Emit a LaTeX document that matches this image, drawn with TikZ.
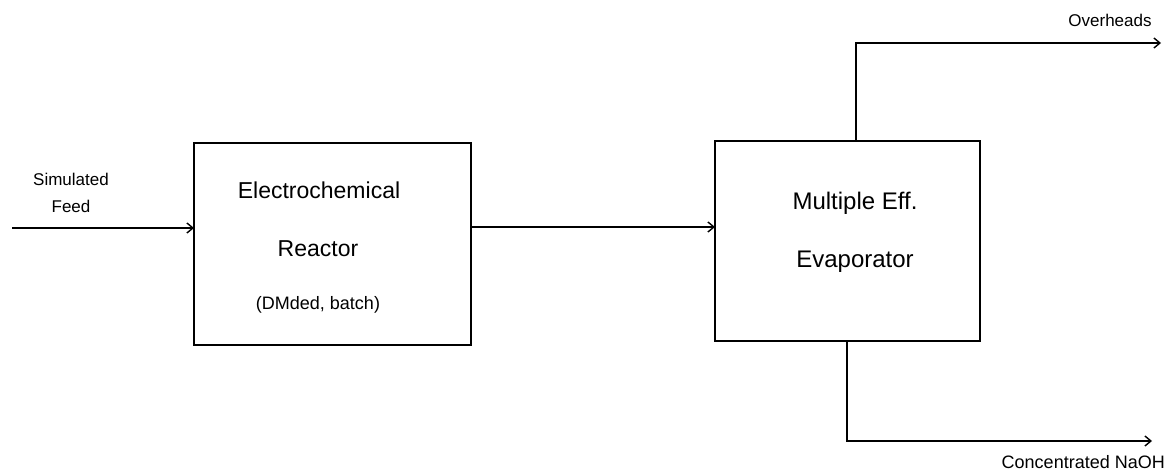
\documentclass[tikz,border=0pt]{standalone}
\usepackage{fontspec}
\setmainfont{Liberation Sans}
\usetikzlibrary{arrows.meta}
\begin{document}
\begin{tikzpicture}[x=1pt,y=-1pt,
  unitbox/.style={draw,line width=1.8pt},
  flow/.style={line width=1.6pt,-{Straight Barb[length=6pt,width=10pt,line width=1.4pt]}},
  lbl/.style={font=\fontsize{17}{20}\selectfont,inner sep=0pt},
  boxtxt/.style={font=\fontsize{23}{27}\selectfont,inner sep=0pt}]
\useasboundingbox (0,0) rectangle (1167,473);
% boxes
\draw[unitbox] (194,143) rectangle (471,345);
\coordinate (reacW) at (194,228);
\coordinate (reacE) at (471,227);
\draw[unitbox] (715,141) rectangle (980,341);
\coordinate (evapW) at (715,227);
\coordinate (evapN) at (856,141);
\coordinate (evapS) at (847,341);
% box texts
\node[boxtxt] (t1) at (319,190) {Electrochemical};
\node[boxtxt] (t2) at (318,249) {Reactor};
\node[lbl,font=\fontsize{18}{21}\selectfont] (t3) at (318,305) {(DMded, batch)};
\node[boxtxt,font=\fontsize{24}{28}\selectfont] (t4) at (855,203) {Multiple Eff.};
\node[boxtxt,font=\fontsize{24}{28}\selectfont] (t5) at (855,262) {Evaporator};
% feed
\coordinate (feedS) at (12,228);
\node[lbl] (feedA) at (71,179) {Simulated};
\node[lbl] (feedB) at (71,206) {Feed};
\draw[flow] (feedS) -- (reacW);
% middle
\draw[flow] (reacE) -- (evapW);
% overheads
\coordinate (ohE) at (1161,43);
\draw[flow] (evapN) |- (ohE);
\node[lbl] (ohL) at (1110,20) {Overheads};
% NaOH
\coordinate (naE) at (1152,441);
\draw[flow] (evapS) |- (naE);
\node[lbl,font=\fontsize{18}{21}\selectfont,anchor=east] (naL) at (1165,462) {Concentrated NaOH};
\end{tikzpicture}
\end{document}
